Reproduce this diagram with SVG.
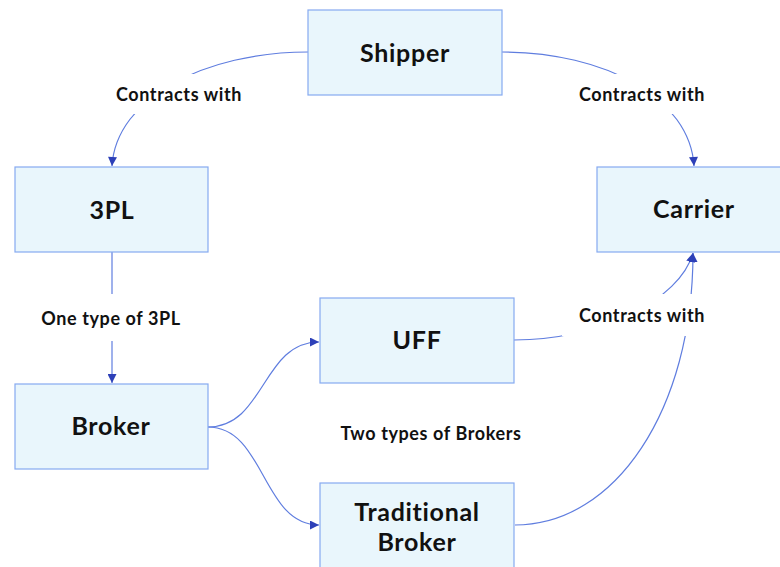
<svg xmlns="http://www.w3.org/2000/svg" width="780" height="567" viewBox="0 0 780 567">
  <style>
    .box { fill: #e9f6fc; stroke: #86aaf0; stroke-width: 1.2; }
    .node-text { font-family: Lato, "Open Sans", "DejaVu Sans", sans-serif; font-weight: bold; font-size: 25px; letter-spacing: 0.7px; fill: #111; text-anchor: middle; }
    .edge { fill: none; stroke: #5f7ddf; stroke-width: 1.2; }
    .edge-label { font-family: Lato, "Open Sans", "DejaVu Sans", sans-serif; font-weight: bold; font-size: 18px; letter-spacing: 0.6px; fill: #111; text-anchor: middle; }
    .knockout { fill: #ffffff; }
  </style>
  <defs>
    <marker id="arrow" viewBox="0 0 10 10" refX="10" refY="5" markerWidth="10" markerHeight="9" markerUnits="userSpaceOnUse" orient="auto">
      <path d="M0,0 L10,5 L0,10 Z" fill="#2d40b8"/>
    </marker>
  </defs>

  <rect width="780" height="567" fill="#ffffff"/>

  <!-- connectors -->
  <g id="connectors">
    <path class="edge" d="M308,52 C205,52 116,98 112,166" marker-end="url(#arrow)"/>
    <path class="edge" d="M502,52 C605,52 690,98 694,166" marker-end="url(#arrow)"/>
    <path class="edge" d="M112,252 L112,383" marker-end="url(#arrow)"/>
    <path class="edge" d="M208,427 C265,427 262,342 319,342" marker-end="url(#arrow)"/>
    <path class="edge" d="M208,427 C265,427 262,525 319,525" marker-end="url(#arrow)"/>
    <path class="edge" d="M514,340 C600,340 680,300 693,253" marker-end="url(#arrow)"/>
    <path class="edge" d="M515,525 C615,525 693,410 693,253" marker-end="url(#arrow)"/>

    <!-- labels sit on a white patch that breaks the line beneath -->
    <rect class="knockout" x="110" y="74" width="138" height="40"/>
    <text class="edge-label" x="179" y="101">Contracts with</text>

    <rect class="knockout" x="572" y="74" width="140" height="40"/>
    <text class="edge-label" x="642" y="101">Contracts with</text>

    <rect class="knockout" x="36" y="294" width="152" height="47"/>
    <text class="edge-label" x="111" y="325">One type of 3PL</text>

    <rect class="knockout" x="562" y="294" width="150" height="42"/>
    <text class="edge-label" x="642" y="322">Contracts with</text>

    <text class="edge-label" x="431" y="440">Two types of Brokers</text>
  </g>

  <!-- nodes -->
  <g id="shipper">
    <rect class="box" x="308" y="10" width="194" height="85"/>
    <text class="node-text" x="405" y="62">Shipper</text>
  </g>
  <g id="threepl">
    <rect class="box" x="15" y="167" width="193" height="85"/>
    <text class="node-text" x="112" y="219">3PL</text>
  </g>
  <g id="carrier">
    <rect class="box" x="597" y="167" width="194" height="85"/>
    <text class="node-text" x="694" y="218">Carrier</text>
  </g>
  <g id="broker">
    <rect class="box" x="15" y="384" width="193" height="85"/>
    <text class="node-text" x="111" y="435">Broker</text>
  </g>
  <g id="uff">
    <rect class="box" x="320" y="298" width="194" height="85"/>
    <text class="node-text" x="417" y="349">UFF</text>
  </g>
  <g id="traditional-broker">
    <rect class="box" x="320" y="483" width="194" height="100"/>
    <text class="node-text" x="417" y="521">Traditional</text>
    <text class="node-text" x="417" y="551">Broker</text>
  </g>
</svg>
